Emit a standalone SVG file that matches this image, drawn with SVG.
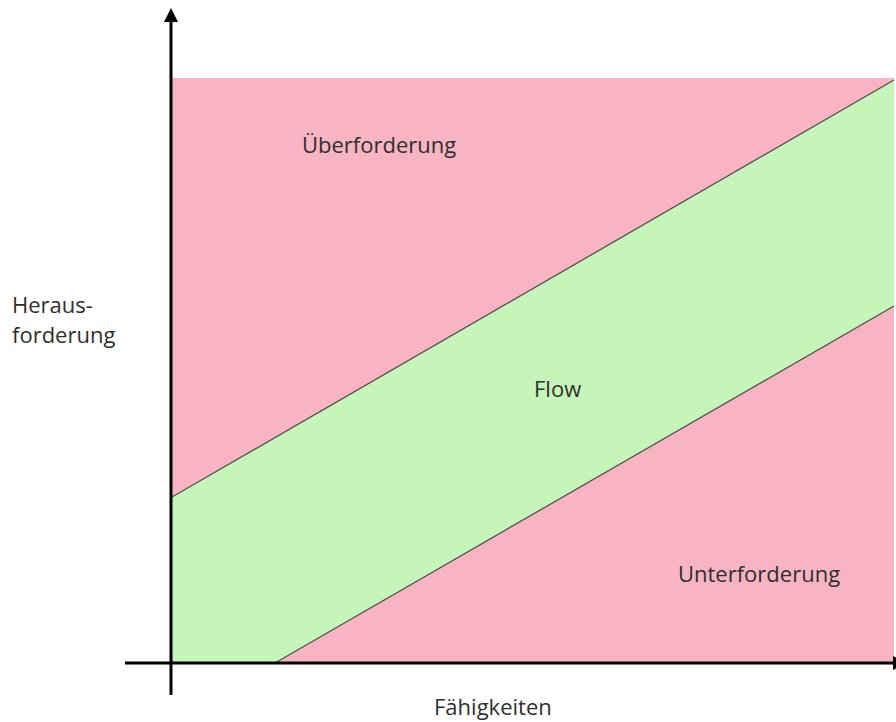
<svg xmlns="http://www.w3.org/2000/svg" width="896" height="722" viewBox="0 0 896 722">
  <style>
    .lbl { font-family: "Open Sans", "Liberation Sans", sans-serif; font-size: 22px; fill: #2f2f2f; }
    .zone-red { fill: #F8B4C3; }
    .zone-green { fill: #C5F5B9; }
    .edge { stroke: #505050; stroke-width: 1.3; fill: none; }
    .axis { stroke: #000000; stroke-width: 3; fill: none; }
  </style>
  <rect width="896" height="722" fill="#ffffff"/>
  <g id="ueberforderung">
    <polygon class="zone-red" points="172,78 894,78 894,80 172,497"/>
    <text class="lbl" x="302" y="153">Überforderung</text>
  </g>
  <g id="flow">
    <polygon class="zone-green" points="172,497 894,80 894,306 275,663 172,663"/>
    <text class="lbl" x="534" y="397">Flow</text>
  </g>
  <g id="unterforderung">
    <polygon class="zone-red" points="275,663 894,306 894,663"/>
    <text class="lbl" x="678" y="582">Unterforderung</text>
  </g>
  <g id="connectors">
    <line class="edge" x1="172" y1="497" x2="894" y2="80"/>
    <line class="edge" x1="275" y1="663" x2="894" y2="306"/>
    <line class="axis" x1="171" y1="20" x2="171" y2="695"/>
    <polygon points="171,8 164,22 178,22" fill="#000000"/>
    <line class="axis" x1="125" y1="663" x2="896" y2="663"/>
    <polygon points="906,663 893,656 893,670" fill="#000000"/>
  </g>
  <g id="axis-labels">
    <text class="lbl" x="12" y="313">Heraus-</text>
    <text class="lbl" x="12" y="343">forderung</text>
    <text class="lbl" x="434" y="715">Fähigkeiten</text>
  </g>
</svg>
